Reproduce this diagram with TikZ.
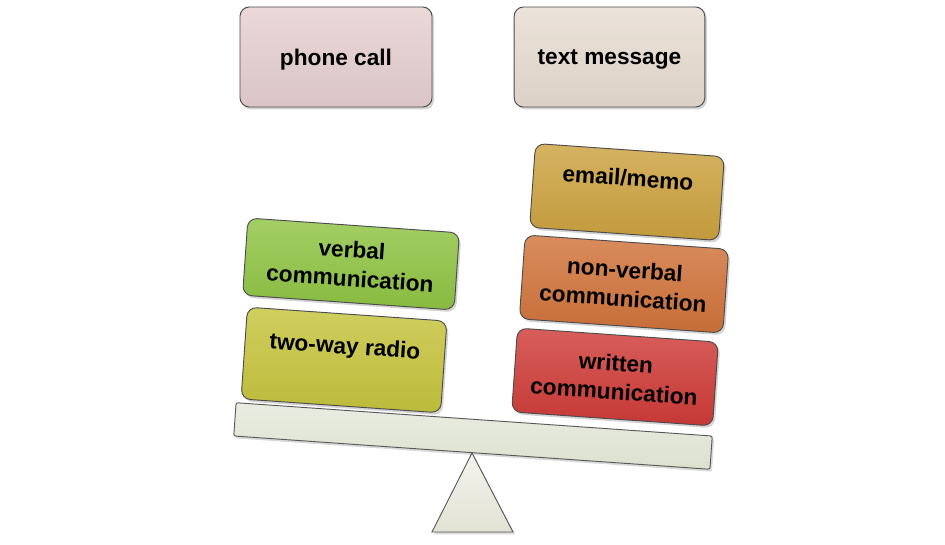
\documentclass[tikz,border=0pt]{standalone}
\usepackage{fontspec}
\setmainfont{Liberation Sans}
\usetikzlibrary{shadows}
\definecolor{callpink}{HTML}{E6CFD0}
\definecolor{textbeige}{HTML}{E7DCD1}
\definecolor{verbalgreen}{HTML}{8FC443}
\definecolor{radioolive}{HTML}{C6C43C}
\definecolor{memogold}{HTML}{CCA23E}
\definecolor{nonverbalorange}{HTML}{D1733A}
\definecolor{writtenred}{HTML}{CF3B37}
\definecolor{beamgray}{HTML}{DCE1CF}
\definecolor{standgray}{HTML}{E2E2D4}

\begin{document}
\begin{tikzpicture}[x=0.75pt, y=-0.75pt,
					pad/.style={
						draw=black!70, line width=0.7pt,
						top color=#1!82!white, bottom color=#1!95!black,
						rounded corners=7pt, inner sep=0pt,
						align=center, font=\fontsize{17}{21.5}\selectfont\bfseries,
						anchor=center,
						drop shadow={opacity=0.35, shadow xshift=1.5pt, shadow yshift=-1.8pt}
					},
					beamstyle/.style={
						draw=black!65, line width=0.7pt,
						top color=beamgray!60!white, bottom color=beamgray,
						rounded corners=1.5pt,
						drop shadow={opacity=0.3, shadow xshift=1.5pt, shadow yshift=-1.8pt}
					}
					]
					\useasboundingbox (0,0) rectangle (945,545);
					
					% two options above the scale
					\node[pad=callpink, text depth=0pt, minimum width=144pt, minimum height=75pt] (call) at (336,57) {phone call};
					\node[pad=textbeige, text depth=0pt, minimum width=143pt, minimum height=75pt] (text) at (609.5,57) {text message};
					
					% beam and stand
					\node[beamstyle, minimum width=358pt, minimum height=25pt, rotate=-4] (beam) at (473,436) {};
					\draw[draw=black!65, line width=0.7pt, top color=standgray!40!white, bottom color=standgray,
						drop shadow={opacity=0.3, shadow xshift=1.5pt, shadow yshift=-1.8pt}]
						(472,453) -- (513,532) -- (432,532) -- cycle;
					
					% left pan
					\node[pad=radioolive, minimum width=150pt, minimum height=69pt, rotate=-4] (radio) at (344,360) {two-way radio\\~};
					\node[pad=verbalgreen, minimum width=159pt, minimum height=58pt, rotate=-4] (verbal) at (351,264) {verbal\\communication};
					
					% right pan
					\node[pad=writtenred, minimum width=151pt, minimum height=63pt, rotate=-4] (written) at (615,377) {written\\communication};
					\node[pad=nonverbalorange, minimum width=153pt, minimum height=63pt, rotate=-4] (nonverbal) at (624,284) {non-verbal\\communication};
					\node[pad=memogold, minimum width=142pt, minimum height=63pt, rotate=-4] (memo) at (627,192) {email/memo\\~};
				\end{tikzpicture}
\end{document}
